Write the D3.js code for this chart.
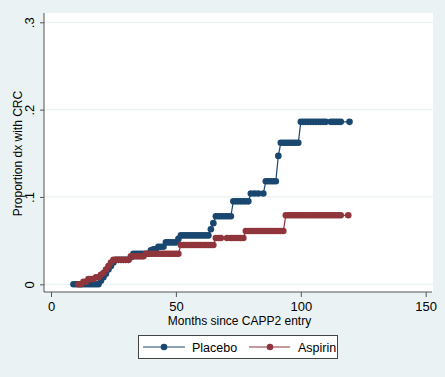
<!DOCTYPE html>
<html>
<head>
<meta charset="utf-8">
<script src="https://cdn.jsdelivr.net/npm/d3@7"></script>
<style>
  html, body { margin: 0; padding: 0; background: #eaf2f3; }
  #chart { width: 445px; height: 377px; }
  text { font-family: "Liberation Sans", Arial, sans-serif; fill: #000; }
</style>
</head>
<body>
<div id="chart"></div>
<script>
"use strict";

// months since entry and cumulative proportion
const placeboMonths = [
  9, 10, 11, 12, 13, 14, 15, 16, 17, 18, 19,
  20, 21, 22, 23, 24, 25, 26, 27, 28, 29, 30, 31,
  32, 33, 34, 35, 36, 37, 38, 39,
  40, 41, 42, 43, 44, 45, 46, 47, 48, 49, 50,
  51, 52, 53, 54, 55, 56, 57, 58, 59, 60, 61, 62, 63,
  64, 65, 66, 67, 68, 69, 70, 71, 72,
  73, 74, 75, 76, 77, 78, 79,
  80, 81.5, 83, 85,
  86, 87, 88, 89, 90,
  91,
  92, 93, 94, 95, 96, 97, 98, 99,
  100, 101, 102, 103, 104, 105, 106, 107, 108, 109, 110, 112, 113, 114, 115, 116, 119.5,
];
const placeboValues = [
  0, 0, 0, 0, 0, 0, 0, 0, 0, 0, 0,
  0.004, 0.008, 0.012, 0.017, 0.021, 0.025, 0.028, 0.028, 0.028, 0.028, 0.028, 0.028,
  0.031, 0.035, 0.035, 0.035, 0.035, 0.035, 0.035, 0.035,
  0.039, 0.040, 0.040, 0.043, 0.043, 0.043, 0.048, 0.048, 0.048, 0.048, 0.048,
  0.052, 0.056, 0.056, 0.056, 0.056, 0.056, 0.056, 0.056, 0.056, 0.056, 0.056, 0.056, 0.056,
  0.063, 0.070, 0.078, 0.078, 0.078, 0.078, 0.078, 0.078, 0.078,
  0.095, 0.095, 0.095, 0.095, 0.095, 0.095, 0.095,
  0.104, 0.104, 0.104, 0.104,
  0.118, 0.118, 0.118, 0.118, 0.118,
  0.147,
  0.162, 0.162, 0.162, 0.162, 0.162, 0.162, 0.162, 0.162,
  0.186, 0.186, 0.186, 0.186, 0.186, 0.186, 0.186, 0.186, 0.186, 0.186, 0.186, 0.186, 0.186, 0.186, 0.186, 0.186, 0.186,
];

const aspirinMonths = [
  11, 12, 13, 14, 15, 16, 17, 18, 19,
  20, 21, 22, 23, 24, 25, 26, 27, 28, 29, 30, 31,
  32, 33, 34, 35, 36, 37,
  38, 39, 40, 41, 42, 43, 44, 45, 46, 47, 48, 49, 50, 51,
  52, 53, 54, 55, 56, 57, 58, 59, 60, 61, 62, 63, 64, 65,
  66, 67, 68, 70.5, 72, 73, 74, 75, 76, 77,
  78, 79, 80, 81, 82, 83, 84, 85, 86, 87, 88, 89, 90, 91, 92, 93,
  94, 95, 96, 97, 98, 99, 100, 101, 102, 103, 104, 105, 106, 107, 108, 109, 110, 111, 112, 113, 114, 115, 116, 119,
];
const aspirinValues = [
  0, 0, 0.003, 0.003, 0.006, 0.006, 0.006, 0.008, 0.008,
  0.011, 0.013, 0.017, 0.021, 0.025, 0.028, 0.028, 0.028, 0.028, 0.028, 0.028, 0.028,
  0.032, 0.032, 0.032, 0.032, 0.032, 0.032,
  0.035, 0.035, 0.035, 0.035, 0.035, 0.035, 0.035, 0.035, 0.035, 0.035, 0.035, 0.035, 0.035, 0.035,
  0.045, 0.045, 0.045, 0.045, 0.045, 0.045, 0.045, 0.045, 0.045, 0.045, 0.045, 0.045, 0.045, 0.045,
  0.053, 0.053, 0.053, 0.053, 0.053, 0.053, 0.053, 0.053, 0.053, 0.053,
  0.061, 0.061, 0.061, 0.061, 0.061, 0.061, 0.061, 0.061, 0.061, 0.061, 0.061, 0.061, 0.061, 0.061, 0.061, 0.061,
  0.079, 0.079, 0.079, 0.079, 0.079, 0.079, 0.079, 0.079, 0.079, 0.079, 0.079, 0.079, 0.079, 0.079, 0.079, 0.079, 0.079, 0.079, 0.079, 0.079, 0.079, 0.079, 0.079, 0.079,
];

const xTicks = [0, 50, 100, 150];
const yTicks = [0, 0.1, 0.2, 0.3];
const yTickLabels = ["0", ".1", ".2", ".3"];
const seriesNames = ["Placebo", "Aspirin"];
const seriesColors = ["#1a476f", "#90353b"];

function zip(ms, vs) {
  return ms.map((m, i) => ({ m: m, v: vs[i] }));
}

function draw() {
  const W = 445, H = 377;
  const plot = { left: 44, right: 433, top: 13, bottom: 292 };

  const svg = d3.select("#chart").append("svg")
    .attr("width", W).attr("height", H);

  svg.append("rect").attr("width", W).attr("height", H).attr("fill", "#eaf2f3");
  svg.append("rect")
    .attr("x", plot.left).attr("y", plot.top)
    .attr("width", plot.right - plot.left).attr("height", plot.bottom - plot.top)
    .attr("fill", "#fff");

  const x = d3.scaleLinear().domain([0, 150]).range([51, 425.7]);
  const y = d3.scaleLinear().domain([0, 0.3]).range([284.3, 22.3]);

  // grid lines
  svg.append("g").selectAll("line").data(yTicks).enter().append("line")
    .attr("x1", plot.left).attr("x2", plot.right)
    .attr("y1", (d) => y(d)).attr("y2", (d) => y(d))
    .attr("stroke", "#eaf2f3").attr("stroke-width", 1.2);

  // y axis
  const yAxis = svg.append("g")
    .attr("transform", `translate(${plot.left},0)`)
    .call(d3.axisLeft(y).tickValues(yTicks).tickSize(4).tickSizeOuter(0)
      .tickFormat((d, i) => yTickLabels[i]));
  yAxis.select(".domain").attr("d", `M0,${plot.top}V${plot.bottom}`).attr("stroke", "#555");
  yAxis.selectAll(".tick line").attr("stroke", "#555");
  yAxis.selectAll(".tick text")
    .attr("font-size", 13).attr("x", 0).attr("dy", 0)
    .attr("text-anchor", "middle")
    .attr("transform", "translate(-10,0) rotate(-90)");

  // x axis
  const xAxis = svg.append("g")
    .attr("transform", `translate(0,${plot.bottom})`)
    .call(d3.axisBottom(x).tickValues(xTicks).tickSize(5).tickSizeOuter(0));
  xAxis.select(".domain").attr("d", `M${plot.left},0H${plot.right - 1}`).attr("stroke", "#555");
  xAxis.selectAll(".tick line").attr("stroke", "#555");
  xAxis.selectAll(".tick text").attr("font-size", 13).attr("y", 10).attr("dy", "0.71em");

  // titles
  svg.append("text")
    .attr("x", (plot.left + plot.right) / 2 + 1).attr("y", 325)
    .attr("text-anchor", "middle").attr("font-size", 12)
    .text("Months since CAPP2 entry");
  svg.append("text")
    .attr("transform", `translate(22,${(plot.top + plot.bottom) / 2 + 1}) rotate(-90)`)
    .attr("text-anchor", "middle").attr("font-size", 12)
    .text("Proportion dx with CRC");

  // series
  const series = [zip(placeboMonths, placeboValues), zip(aspirinMonths, aspirinValues)];
  const line = d3.line().x((d) => x(d.m)).y((d) => y(d.v));

  // aspirin drawn last (on top), as in the reference
  series.forEach((data, i) => {
    const g = svg.append("g");
    g.append("path").datum(data).attr("d", line)
      .attr("fill", "none").attr("stroke", seriesColors[i]).attr("stroke-width", 1.2);
    g.selectAll("circle").data(data).enter().append("circle")
      .attr("cx", (d) => x(d.m)).attr("cy", (d) => y(d.v)).attr("r", 3.3)
      .attr("fill", seriesColors[i]);
  });

  // legend
  const legend = svg.append("g");
  legend.append("rect")
    .attr("x", 138.5).attr("y", 335.5).attr("width", 199).attr("height", 23)
    .attr("fill", "#fff").attr("stroke", "#444").attr("stroke-width", 1);
  const items = [
    { x1: 143, x2: 185, cx: 164, tx: 192 },
    { x1: 249, x2: 290, cx: 270, tx: 298 },
  ];
  items.forEach((it, i) => {
    legend.append("line").attr("x1", it.x1).attr("x2", it.x2)
      .attr("y1", 347).attr("y2", 347)
      .attr("stroke", seriesColors[i]).attr("stroke-width", 1.2);
    legend.append("circle").attr("cx", it.cx).attr("cy", 347).attr("r", 3.3)
      .attr("fill", seriesColors[i]);
    legend.append("text").attr("x", it.tx).attr("y", 351.5)
      .attr("font-size", 12.5).text(seriesNames[i]);
  });
}

window.addEventListener("load", draw);
</script>
</body>
</html>
